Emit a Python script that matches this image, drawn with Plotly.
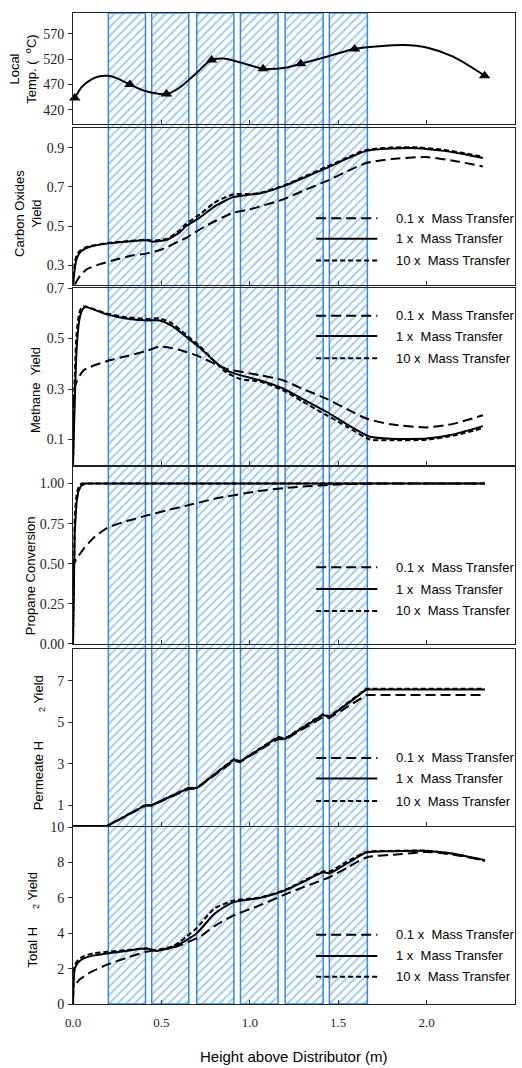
import plotly.graph_objects as go

# ---------------- data ----------------
zone_start = [0.20, 0.445, 0.70, 0.947, 1.20, 1.45]
zone_end = [0.41, 0.655, 0.91, 1.16, 1.415, 1.665]

temp_curve_x = [0.01, 0.05, 0.1, 0.15, 0.2, 0.25, 0.32, 0.4, 0.53, 0.6, 0.7, 0.78, 0.85, 0.95,
                1.075, 1.2, 1.29, 1.45, 1.59, 1.75, 1.87, 2.0, 2.15, 2.33]
temp_curve_y = [443, 465, 479, 486, 487, 482, 470, 458, 451, 463, 493, 518, 521, 513,
                501, 503, 511, 526, 540, 546, 548, 543, 525, 487]
temp_pts_x = [0.01, 0.322, 0.529, 0.784, 1.075, 1.288, 1.593, 2.328]
temp_pts_y = [443, 470, 451, 518, 501, 511, 540, 487]

co_x = [0, 0.01, 0.02, 0.04, 0.07, 0.1, 0.19, 0.3, 0.416, 0.45, 0.53, 0.6, 0.64, 0.717, 0.8, 0.906,
        1.0, 1.056, 1.188, 1.3, 1.433, 1.55, 1.659, 1.8, 1.942, 2.1, 2.2, 2.318]
co_1x = [0.2, 0.28, 0.33, 0.365, 0.385, 0.395, 0.41, 0.42, 0.427, 0.42, 0.43, 0.465, 0.5, 0.543, 0.6, 0.648,
         0.661, 0.667, 0.703, 0.745, 0.797, 0.845, 0.885, 0.897, 0.899, 0.885, 0.87, 0.848]
co_10x = [0.2, 0.31, 0.35, 0.375, 0.39, 0.398, 0.412, 0.422, 0.43, 0.425, 0.435, 0.475, 0.51, 0.56, 0.62, 0.662,
          0.664, 0.67, 0.706, 0.75, 0.803, 0.85, 0.89, 0.902, 0.903, 0.89, 0.875, 0.855]
co01_x = [0.01, 0.04, 0.08, 0.153, 0.25, 0.34, 0.42, 0.5, 0.64, 0.75, 0.906, 1.0, 1.056, 1.188, 1.3,
          1.433, 1.55, 1.659, 1.8, 1.998, 2.15, 2.318]
co_01x = [0.2, 0.245, 0.28, 0.305, 0.33, 0.35, 0.36, 0.38, 0.44, 0.5, 0.568, 0.585, 0.60, 0.636, 0.68,
          0.73, 0.78, 0.823, 0.843, 0.853, 0.835, 0.805]

me_x = [0, 0.01, 0.02, 0.035, 0.05, 0.068, 0.1, 0.19, 0.3, 0.416, 0.49, 0.56, 0.64, 0.717, 0.8, 0.868,
        0.944, 1.056, 1.188, 1.3, 1.433, 1.55, 1.68, 1.8, 2.0, 2.15, 2.318]
me_1x = [0.0, 0.25, 0.45, 0.57, 0.61, 0.625, 0.62, 0.596, 0.58, 0.572, 0.572, 0.55, 0.507, 0.464, 0.41, 0.374,
         0.355, 0.335, 0.302, 0.26, 0.21, 0.16, 0.111, 0.103, 0.104, 0.12, 0.153]
me_10x = [0.0, 0.35, 0.52, 0.6, 0.625, 0.628, 0.62, 0.6, 0.585, 0.578, 0.58, 0.56, 0.515, 0.47, 0.41, 0.365,
          0.34, 0.33, 0.295, 0.25, 0.197, 0.15, 0.10, 0.097, 0.099, 0.115, 0.145]
me01_x = [0, 0.01, 0.06, 0.19, 0.3, 0.416, 0.49, 0.6, 0.717, 0.868, 1.056, 1.188, 1.3, 1.433, 1.55,
          1.659, 1.8, 1.998, 2.15, 2.318]
me_01x = [0.0, 0.309, 0.374, 0.41, 0.43, 0.451, 0.468, 0.456, 0.428, 0.38, 0.355, 0.335, 0.3, 0.262, 0.22,
          0.183, 0.16, 0.148, 0.162, 0.196]

pr1_x = [0, 0.005, 0.01, 0.02, 0.03, 0.045, 0.06, 0.068, 2.33]
pr_1x = [0, 0.5, 0.7, 0.88, 0.95, 0.985, 0.997, 1.0, 1.0]
pr10_x = [0, 0.005, 0.01, 0.02, 0.03, 0.04, 0.049, 2.33]
pr_10x = [0, 0.6, 0.8, 0.93, 0.975, 0.993, 1.0, 1.0]
pr01_x = [0, 0.005, 0.02, 0.06, 0.12, 0.19, 0.3, 0.416, 0.53, 0.64, 0.8, 1.056, 1.2, 1.35, 1.5, 1.65, 1.8, 2.33]
pr_01x = [0, 0.5, 0.53, 0.593, 0.665, 0.721, 0.765, 0.80, 0.833, 0.861, 0.905, 0.954, 0.972, 0.985, 0.994,
          0.999, 1.0, 1.0]

pe_x = [0, 0.194, 0.41, 0.445, 0.655, 0.70, 0.91, 0.945, 1.16, 1.2, 1.414, 1.45, 1.659, 2.33]
pe_1x = [0, 0, 1.0, 1.0, 1.83, 1.83, 3.21, 3.1, 4.28, 4.2, 5.36, 5.25, 6.58, 6.58]
pe_10x = [0, 0, 1.02, 1.0, 1.85, 1.82, 3.23, 3.12, 4.3, 4.22, 5.4, 5.28, 6.62, 6.62]
pe_01x = [0, 0, 0.97, 0.98, 1.78, 1.8, 3.15, 3.08, 4.2, 4.17, 5.25, 5.2, 6.32, 6.32]

th_x = [0, 0.005, 0.01, 0.03, 0.06, 0.12, 0.19, 0.3, 0.416, 0.47, 0.57, 0.64, 0.70, 0.8, 0.906, 1.056,
        1.198, 1.3, 1.414, 1.45, 1.55, 1.659, 1.8, 1.998, 2.15, 2.33]
th_1x = [0, 1.5, 2.0, 2.35, 2.58, 2.75, 2.86, 3.0, 3.15, 3.0, 3.24, 3.6, 4.0, 5.1, 5.76, 6.0,
         6.42, 6.9, 7.45, 7.4, 7.95, 8.57, 8.64, 8.66, 8.5, 8.14]
th_10x = [0, 1.8, 2.2, 2.5, 2.7, 2.88, 2.95, 3.05, 3.12, 3.05, 3.3, 3.8, 4.3, 5.4, 5.85, 6.02,
          6.45, 6.95, 7.5, 7.5, 8.05, 8.6, 8.66, 8.68, 8.5, 8.1]
th01_x = [0.02, 0.04, 0.1, 0.19, 0.3, 0.416, 0.48, 0.57, 0.717, 0.8, 0.906, 1.056, 1.2, 1.3, 1.45, 1.55,
          1.659, 1.86, 2.0, 2.15, 2.33]
th_01x = [1.2, 1.41, 1.8, 2.21, 2.6, 2.96, 3.05, 3.2, 3.8, 4.4, 5.0, 5.58, 6.2, 6.6, 7.17, 7.7,
          8.29, 8.48, 8.6, 8.45, 8.12]

series_names = ["0.1 x\u00a0 Mass Transfer", "1 x\u00a0 Mass Transfer", "10 x\u00a0 Mass Transfer"]
x_ticks = [0.0, 0.5, 1.0, 1.5, 2.0, 2.5]

# ---------------- layout helpers ----------------
W, H = 522, 1068
ML, MR, MT, MB = 73, 6, 8, 64
PW = W - ML - MR
PH = H - MT - MB
BOT = H - MB


def py(p):
    return (BOT - p) / PH


def px(p):
    return (p - ML) / PW


panels = [(8, 120), (124, 281), (284, 462), (464, 642), (647, 825), (826, 1004)]
BLUE = "#2f8ae8"
DASH = {"0.1": "10px,5px", "1": "solid", "10": "5px,3px"}

fig = go.Figure()

# hatched zones across whole figure (overlay subplot x/y)
for a, b in zip(zone_start, zone_end):
    fig.add_trace(go.Scatter(
        x=[a, b, b, a, a], y=[0, 0, 1, 1, 0], mode="lines", fill="toself",
        line=dict(color=BLUE, width=1.5), fillcolor="rgba(255,255,255,0)",
        fillpattern=dict(shape="/", fgcolor=BLUE, bgcolor="rgba(255,255,255,0)", size=6, solidity=0.3),
        xaxis="x", yaxis="y", showlegend=False, hoverinfo="skip"))

# panel 1: temperature
fig.add_trace(go.Scatter(x=temp_curve_x, y=temp_curve_y, mode="lines", line=dict(color="black", width=2, shape="spline", smoothing=0.8),
                         xaxis="x2", yaxis="y2", showlegend=False))
fig.add_trace(go.Scatter(x=temp_pts_x, y=temp_pts_y, mode="markers", marker=dict(symbol="triangle-up", size=10, color="black"),
                         cliponaxis=False, xaxis="x2", yaxis="y2", showlegend=False))


def add3(ax, xs, ys, shapes):
    for (xv, yv, key, shp) in zip(xs, ys, ["0.1", "1", "10"], shapes):
        fig.add_trace(go.Scatter(x=xv, y=yv, mode="lines",
                                 line=dict(color="black", width=2, dash=DASH[key], shape=shp, smoothing=0.6),
                                 xaxis="x" + ax, yaxis="y" + ax, showlegend=False))


add3("3", [co01_x, co_x, co_x], [co_01x, co_1x, co_10x], ["spline", "spline", "spline"])
add3("4", [me01_x, me_x, me_x], [me_01x, me_1x, me_10x], ["spline", "spline", "spline"])
add3("5", [pr01_x, pr1_x, pr10_x], [pr_01x, pr_1x, pr_10x], ["spline", "linear", "linear"])
add3("6", [pe_x, pe_x, pe_x], [pe_01x, pe_1x, pe_10x], ["linear", "linear", "linear"])
add3("7", [th01_x, th_x, th_x], [th_01x, th_1x, th_10x], ["spline", "spline", "spline"])

tickfont = dict(family="Liberation Serif, Times New Roman, serif", size=14, color="#222")
titlefont = dict(family="Liberation Sans", size=13, color="black")

layout = dict(
    width=W, height=H, margin=dict(l=ML, r=MR, t=MT, b=MB),
    paper_bgcolor="white", plot_bgcolor="rgba(0,0,0,0)",
    xaxis=dict(domain=[0, 1], range=[0, 2.5], visible=False, fixedrange=True),
    yaxis=dict(domain=[0, 1], range=[0, 1], visible=False, fixedrange=True),
)

yspecs = [
    dict(range=[391, 611], tickvals=[420, 470, 520, 570]),
    dict(range=[0.2, 1.0], tickvals=[0.3, 0.5, 0.7, 0.9], tickformat=".1f"),
    dict(range=[0, 0.702], tickvals=[0.1, 0.3, 0.5, 0.7], tickformat=".1f"),
    dict(range=[0, 1.105], tickvals=[0, 0.25, 0.5, 0.75, 1.0], tickformat=".2f"),
    dict(range=[0, 8.55], tickvals=[1, 3, 5, 7]),
    dict(range=[0, 10.02], tickvals=[0, 2, 4, 6, 8, 10]),
]

for i, ((top, bot), ys) in enumerate(zip(panels, yspecs)):
    n = str(i + 2)
    last = i == len(panels) - 1
    layout["xaxis" + n] = dict(domain=[0, 1], range=[0, 2.5], anchor="y" + n, tickvals=x_ticks,
                               ticks="inside", ticklen=4, tickcolor="#333", showline=True, linecolor="#222",
                               linewidth=1, mirror=True, showgrid=False, zeroline=False,
                               showticklabels=last, tickformat=".1f", tickfont=dict(tickfont, size=13),
                               ticklabelstandoff=6)
    layout["yaxis" + n] = dict(domain=[py(bot), py(top)], anchor="x" + n, ticks="outside", ticklen=4,
                               tickcolor="#333", showline=True, linecolor="#222", linewidth=1, mirror=True,
                               showgrid=False, zeroline=False, tickfont=tickfont, ticklabelstandoff=1, **ys)

fig.update_layout(**layout)

# axis titles
titles = [
    ("Local<br>Temp. (\u00a0 <sup>o</sup>C)", 23, 65),
    ("Carbon Oxides<br>Yield", 28, 210),
    ("Methane\u00a0 Yield", 35, 387),
    ("Propane Conversion", 30, 574),
    ("Permeate H" + "\u00a0" * 8 + "<sub>2</sub> Yield", 39, 742),
    ("Total H" + "\u00a0" * 5 + "<sub>2</sub> Yield", 33, 920),
]
for txt, cx, cy in titles:
    fig.add_annotation(text=txt, xref="paper", yref="paper", x=0, xshift=cx - ML, y=py(cy),
                       xanchor="center", yanchor="middle", textangle=-90, showarrow=False, font=titlefont)

fig.add_annotation(text="Height above Distributor (m)", xref="paper", yref="paper", x=0.5, y=py(1057),
                   xanchor="center", yanchor="middle", showarrow=False,
                   font=dict(family="Liberation Sans", size=15, color="black"))

# in-panel legends
legend_rows = [
    [214.3, 235, 256.7],
    [312.3, 332.7, 355],
    [565, 587, 609],
    [756.7, 777.3, 800],
    [934.3, 955.7, 976.7],
]
for rows in legend_rows:
    for yy, key, name in zip(rows, ["0.1", "1", "10"], series_names):
        fig.add_shape(type="line", xref="paper", yref="paper", x0=px(316.7), x1=px(378), y0=py(yy), y1=py(yy),
                      line=dict(color="black", width=2, dash=DASH[key]))
        fig.add_annotation(text=name, xref="paper", yref="paper", x=px(395), y=py(yy), xanchor="left",
                           yanchor="middle", showarrow=False,
                           font=dict(family="Liberation Sans", size=13, color="black"))

fig.write_html("out.html", config={"displayModeBar": False},
               post_script="document.body.style.margin='0';document.body.style.padding='0';")
